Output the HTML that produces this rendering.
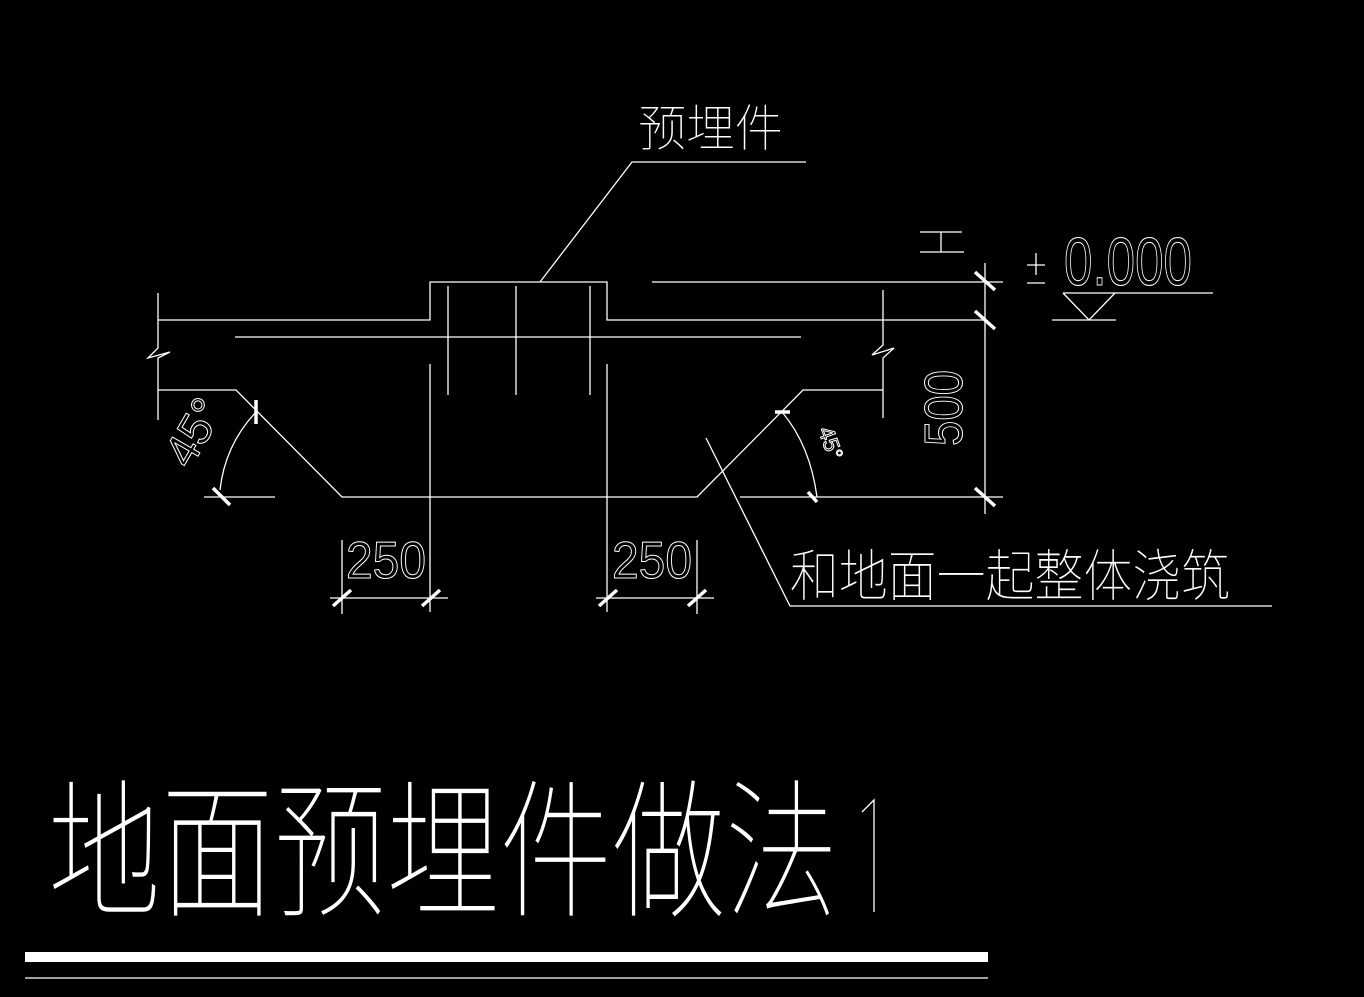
<!DOCTYPE html>
<html><head><meta charset="utf-8"><style>
html,body{margin:0;padding:0;background:#000;}
svg{display:block}
text{fill:#fff;font-family:"Liberation Sans","Noto Sans CJK SC",sans-serif;}
text.o{fill:none;stroke:#fff;stroke-width:1;}
text.t{font-weight:100;}
</style></head><body>
<svg width="1364" height="997" viewBox="0 0 1364 997" xmlns="http://www.w3.org/2000/svg">
<g stroke="#fff" stroke-width="1.3" fill="none">
<polyline points="158,293 158,348 148,358 170,352 158,358 158,420"/>
<polyline points="158,320 430,320 430,282 607,282 607,320 985,320"/>
<line x1="235" y1="337" x2="801" y2="337"/>
<line x1="448" y1="286" x2="448" y2="395"/>
<line x1="516" y1="286" x2="516" y2="395"/>
<line x1="590" y1="286" x2="590" y2="395"/>
<line x1="430" y1="364" x2="430" y2="612"/>
<line x1="607" y1="364" x2="607" y2="612"/>
<polyline points="158,390 236,390 342,497 697,497 803,390 883,390"/>
<polyline points="883,290 883,345 872,355 894,348 883,358 883,418"/>
<line x1="652" y1="282" x2="1003" y2="282"/>
<line x1="740" y1="497" x2="1003" y2="497"/>
<line x1="985" y1="263" x2="985" y2="514"/>
<line x1="204" y1="497" x2="275" y2="497"/>
<path d="M256,412 Q225,445 220,490"/>
<path d="M782,412 Q810,445 817,497"/>
<polyline points="540,282 632,162 806,162"/>
<polyline points="706,438 790,606 1272,606"/>
<line x1="330" y1="598" x2="448" y2="598"/>
<line x1="342" y1="540" x2="342" y2="614"/>
<line x1="596" y1="598" x2="714" y2="598"/>
<line x1="697" y1="540" x2="697" y2="614"/>
<line x1="920" y1="232" x2="962" y2="232"/>
<line x1="920" y1="252" x2="964" y2="252"/>
<line x1="941" y1="232" x2="941" y2="252"/>
<line x1="1063" y1="293" x2="1213" y2="293"/>
<polyline points="1063,293 1089,320 1115,293"/>
<line x1="1052" y1="320" x2="1116" y2="320"/>
<line x1="1027" y1="265" x2="1045" y2="265"/>
<line x1="1036" y1="253" x2="1036" y2="275"/>
<line x1="1027" y1="283" x2="1045" y2="283"/>
<polyline points="862,812 874,800 874,912"/>
</g>
<g stroke="#fff" stroke-width="3.5">
<line x1="256" y1="400" x2="256" y2="424"/>
<line x1="213" y1="488" x2="230" y2="505"/>
<line x1="775" y1="412" x2="790" y2="412"/>
<line x1="808" y1="492" x2="817" y2="502"/>
<line x1="975" y1="272" x2="995" y2="290"/>
<line x1="975" y1="311" x2="995" y2="329"/>
<line x1="975" y1="488" x2="995" y2="506"/>
<line x1="333" y1="606" x2="351" y2="590"/>
<line x1="422" y1="606" x2="440" y2="590"/>
<line x1="599" y1="606" x2="617" y2="590"/>
<line x1="688" y1="606" x2="706" y2="590"/>
</g>
<text class="t" x="638" y="146" font-size="50" textLength="145" lengthAdjust="spacingAndGlyphs">预埋件</text>
<text class="t" x="790" y="596" font-size="56" textLength="440" lengthAdjust="spacingAndGlyphs">和地面一起整体浇筑</text>
<text class="o" x="346" y="578" font-size="52" textLength="80" lengthAdjust="spacingAndGlyphs">250</text>
<text class="o" x="612" y="578" font-size="52" textLength="80" lengthAdjust="spacingAndGlyphs">250</text>
<text class="o" x="1064" y="285" font-size="68" textLength="128" lengthAdjust="spacingAndGlyphs">0.000</text>
<text class="o" transform="translate(962,446) rotate(-90)" font-size="54" textLength="76" lengthAdjust="spacingAndGlyphs">500</text>
<text class="o" transform="translate(190,470) rotate(-60)" font-size="46">45°</text>
<text class="o" transform="translate(818,430) rotate(70)" font-size="22">45°</text>
<text class="t" x="48" y="905" font-size="150" textLength="790" lengthAdjust="spacingAndGlyphs">地面预埋件做法</text>
<rect x="25" y="952" width="963" height="10" fill="#fff"/>
<line x1="25" y1="978" x2="988" y2="978" stroke="#fff" stroke-width="1.3"/>
</svg>
</body></html>
